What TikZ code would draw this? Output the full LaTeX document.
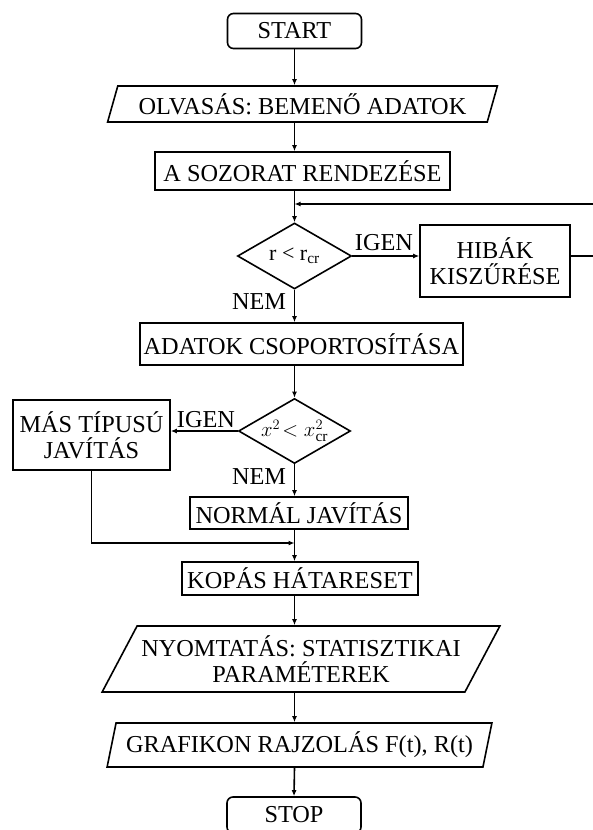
\documentclass[tikz,border=0pt]{standalone}
\usepackage{fontspec}
\setmainfont{Liberation Serif}
\usetikzlibrary{arrows.meta,shapes.geometric,calc}

\begin{document}
\begin{tikzpicture}[x=1pt, y=-1pt,
    every node/.style={font=\fontsize{24.3}{26}\selectfont},
    arr/.style={line width=1.6pt, -{Latex[length=6pt,width=5pt]}},
    termbox/.style={draw, line width=1.6pt, rounded corners=6pt, minimum width=134, minimum height=35, inner sep=0pt},
    procbox/.style={draw, line width=1.6pt, inner sep=0pt, align=center},
    iobox/.style={draw, line width=1.6pt, trapezium, trapezium stretches=true, inner sep=0pt, align=center},
    decbox/.style={draw, line width=1.6pt, diamond, aspect=1.7, inner sep=0pt, minimum width=114, minimum height=66, font=\fontsize{22}{24}\selectfont},
    lbl/.style={inner sep=0pt}]

\clip (0,0) rectangle (593,830);
\coordinate (axis) at (294.5,0);

% Main column
\node[termbox] (start) at (294.5,31) {START};
\node[iobox, trapezium left angle=67, trapezium right angle=113, minimum width=391, minimum height=36] (read) at (302.5,104) {OLVASÁS: BEMENŐ ADATOK};
\node[procbox, minimum width=295, minimum height=38] (sort) at (302.5,171) {A SOZORAT RENDEZÉSE};
\node[decbox] (dec1) at (294.5,256) {r < r\textsubscript{cr}};
\node[procbox, minimum width=150, minimum height=72] (filter) at (495,261) {HIBÁK\\KISZŰRÉSE};
\node[procbox, minimum width=323, minimum height=42] (group) at (301.5,344) {ADATOK CSOPORTOSÍTÁSA};
\node[decbox, minimum width=112, minimum height=65] (dec2) at (294.5,431) {$x^2\!< x^2_{\mathrm{cr}}$};
\node[procbox, minimum width=157, minimum height=70] (other) at (91.5,435) {MÁS TÍPUSÚ\\JAVÍTÁS};
\node[procbox, minimum width=218, minimum height=32] (normal) at (299,513) {NORMÁL JAVÍTÁS};
\node[procbox, minimum width=236, minimum height=33] (wear) at (300,578.5) {KOPÁS HÁTARESET};
\node[iobox, trapezium left angle=54, trapezium right angle=126, minimum width=398, minimum height=66] (print) at (301,659) {NYOMTATÁS: STATISZTIKAI\\PARAMÉTEREK};
\node[iobox, trapezium left angle=72, trapezium right angle=108, minimum width=385, minimum height=44] (plot) at (299.5,745) {GRAFIKON RAJZOLÁS F(t), R(t)};
\node[termbox, minimum height=36] (stop) at (294,815) {STOP};

% Branch labels
\node[lbl] (yes1) at (384,243) {IGEN};
\node[lbl] (no1) at (259,302) {NEM};
\node[lbl] (yes2) at (206,420) {IGEN};
\node[lbl] (no2) at (259,477) {NEM};

% Connectors
\coordinate (join1) at (294.5,204);
\coordinate (join2) at (294.5,543);
\draw[arr] (axis |- start.south) -- (axis |- read.north);
\draw[arr] (axis |- read.south) -- (axis |- sort.north);
\draw[arr] (axis |- sort.south) -- (dec1.north);
\draw[arr] (dec1.east) -- (dec1.east -| filter.west);
\draw[arr] (dec1.east -| filter.east) -- ++(40,0) |- (join1);
\draw[arr] (dec1.south) -- (axis |- group.north);
\draw[arr] (axis |- group.south) -- (dec2.north);
\draw[arr] (dec2.west) -- (dec2.west -| other.east);
\draw[arr] (dec2.south) -- (axis |- normal.north);
\draw[arr] (other.south) |- (join2);
\draw[arr] (axis |- normal.south) -- (axis |- wear.north);
\draw[arr] (axis |- wear.south) -- (axis |- print.north);
\draw[arr] (axis |- print.south) -- (axis |- plot.north);
\draw[arr] (axis |- plot.south) -- (stop.north);

\end{tikzpicture}
\end{document}
